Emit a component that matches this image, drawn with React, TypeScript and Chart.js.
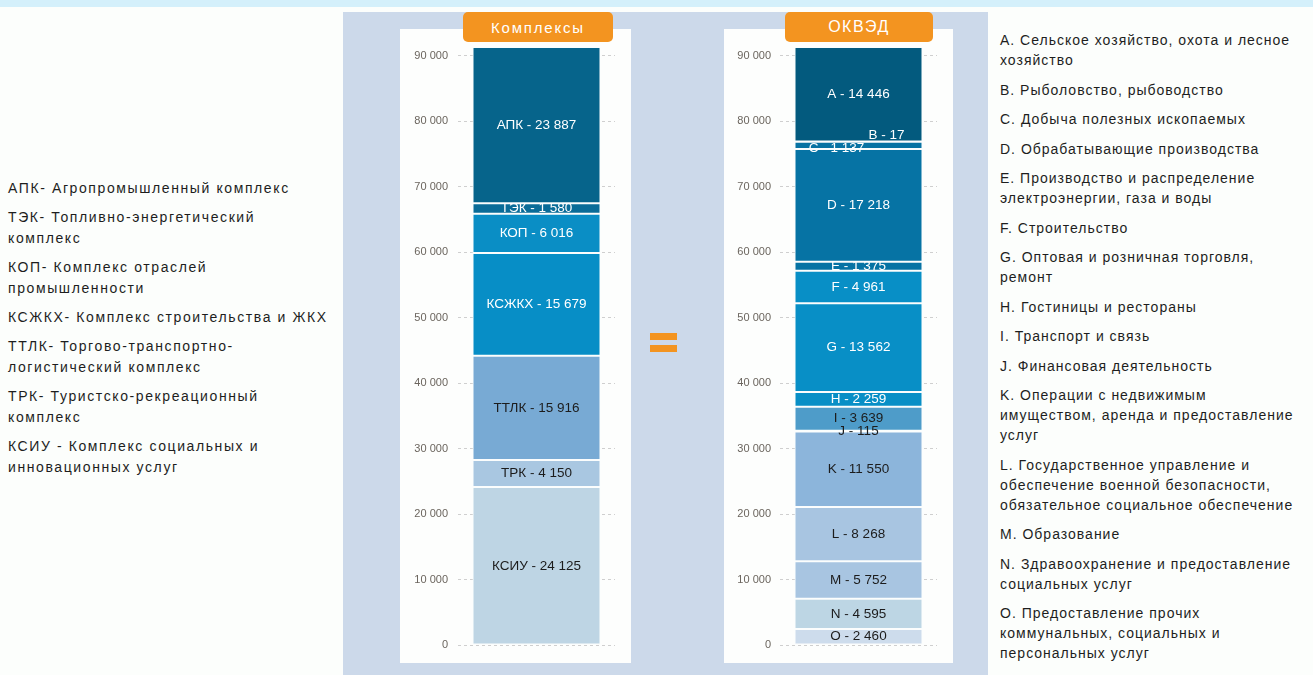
import React, { useEffect, useRef } from "react";
import { Chart, registerables } from "chart.js";

Chart.register(...registerables);

// ---- Data ----
const complexCategories = ["КСИУ", "ТРК", "ТТЛК", "КСЖКХ", "КОП", "ТЭК", "АПК"];
const complexValues = [24125, 4150, 15916, 15679, 6016, 1580, 23887];
const complexTickLabels = ["0", "10 000", "20 000", "30 000", "40 000", "50 000", "60 000", "70 000", "80 000", "90 000"];

const okvedCategories = ["O", "N", "M", "L", "K", "J", "I", "H", "G", "F", "E", "D", "C", "B", "A"];
const okvedValues = [2460, 4595, 5752, 8268, 11550, 115, 3639, 2259, 13562, 4961, 1375, 17218, 1137, 17, 14446];
const okvedTickLabels = ["0", "10 000", "20 000", "30 000", "40 000", "50 000", "60 000", "70 000", "80 000", "90 000"];

const complexLegend = [
  ["АПК- Агропромышленный комплекс"],
  ["ТЭК- Топливно-энергетический", "комплекс"],
  ["КОП- Комплекс отраслей", "промышленности"],
  ["КСЖКХ- Комплекс строительства и ЖКХ"],
  ["ТТЛК- Торгово-транспортно-", "логистический комплекс"],
  ["ТРК- Туристско-рекреационный", "комплекс"],
  ["КСИУ - Комплекс социальных и", "инновационных услуг"],
];

const okvedLegend = [
  ["А. Сельское хозяйство, охота и лесное", "хозяйство"],
  ["В. Рыболовство, рыбоводство"],
  ["С. Добыча полезных ископаемых"],
  ["D. Обрабатывающие производства"],
  ["Е. Производство и распределение", "электроэнергии, газа и воды"],
  ["F. Строительство"],
  ["G. Оптовая и розничная торговля,", "ремонт"],
  ["Н. Гостиницы и рестораны"],
  ["I. Транспорт и связь"],
  ["J. Финансовая деятельность"],
  ["K. Операции с недвижимым", "имуществом, аренда и предоставление", "услуг"],
  ["L. Государственное управление и", "обеспечение военной безопасности,", "обязательное социальное обеспечение"],
  ["M. Образование"],
  ["N. Здравоохранение и предоставление", "социальных услуг"],
  ["O. Предоставление прочих", "коммунальных, социальных и", "персональных услуг"],
];

// ---- Styles ----
const complexColors = ["#bed5e4", "#a9c7e1", "#78aad4", "#078ec6", "#0a8ec5", "#0a6c98", "#06648b"];
const complexTextColors = ["#1c1c1c", "#1c1c1c", "#1c1c1c", "#ffffff", "#ffffff", "#ffffff", "#ffffff"];
const okvedColors = [
  "#cddcec", "#bdd6e4", "#a8c5e1", "#a8c5e1", "#8cb5db", "#4e9cc9", "#4e9cc9",
  "#088fc6", "#088fc6", "#088fc6", "#0673a4", "#0673a4", "#0873a3", "#035a7e", "#035a7e",
];
const okvedTextColors = [
  "#1c1c1c", "#1c1c1c", "#1c1c1c", "#1c1c1c", "#1c1c1c", "#1c1c1c", "#1c1c1c",
  "#ffffff", "#ffffff", "#ffffff", "#ffffff", "#ffffff", "#ffffff", "#ffffff", "#ffffff",
];
const okvedLabelOffsets: Record<number, [number, number]> = { 12: [-22, 3], 13: [28, -6] };

const FONT = "'Liberation Sans', Arial, sans-serif";

function fmt(v: number): string {
  return String(v).replace(/\B(?=(\d{3})+(?!\d))/g, " ");
}

const segLabelsPlugin = {
  id: "segLabels",
  afterDatasetsDraw(chart: any, _args: any, opts: any) {
    const ctx = chart.ctx;
    ctx.save();
    ctx.font = `13.5px ${FONT}`;
    ctx.textAlign = "center";
    ctx.textBaseline = "middle";
    chart.data.datasets.forEach((ds: any, i: number) => {
      const el = chart.getDatasetMeta(i).data[0];
      if (!el) return;
      const { x, y, base } = el.getProps(["x", "y", "base"], true);
      const off = (opts.offsets && opts.offsets[i]) || [0, 0];
      ctx.fillStyle = opts.textColors[i];
      ctx.fillText(`${ds.label} - ${fmt(ds.data[0])}`, x + off[0], (y + base) / 2 + off[1]);
    });
    ctx.restore();
  },
};

type StackProps = {
  cats: string[];
  vals: number[];
  colors: string[];
  textColors: string[];
  tickLabels: string[];
  offsets?: Record<number, [number, number]>;
  width: number;
  height: number;
  axisWidth: number;
  tickPad: number;
  padRight: number;
};

function StackChart(p: StackProps) {
  const ref = useRef<HTMLCanvasElement>(null);
  useEffect(() => {
    const total = p.vals.reduce((a, b) => a + b, 0);
    const chart = new Chart(ref.current as HTMLCanvasElement, {
      type: "bar",
      data: {
        labels: [""],
        datasets: p.cats.map((c, i) => ({
          label: c,
          data: [p.vals[i]],
          backgroundColor: p.colors[i],
          borderColor: "#fbfdfd",
          borderWidth: 1,
          borderSkipped: false,
          barPercentage: 128 / 157,
          categoryPercentage: 1,
        })),
      },
      options: {
        responsive: false,
        animation: false,
        devicePixelRatio: 1,
        layout: { padding: { top: 18, bottom: 18, right: p.padRight, left: 0 } },
        plugins: {
          legend: { display: false },
          tooltip: { enabled: false },
          segLabels: { textColors: p.textColors, offsets: p.offsets || {} },
        } as any,
        scales: {
          x: { stacked: true, display: false },
          y: {
            stacked: true,
            bounds: "data",
            min: 0,
            max: total,
            afterDataLimits: (s: any) => {
              s.min = 0;
              s.max = total;
            },
            afterBuildTicks: (s: any) => {
              s.ticks = p.tickLabels.map((_, i) => ({ value: i * 10000 }));
            },
            afterFit: (s: any) => {
              s.width = p.axisWidth;
            },
            grid: { color: "#cfcfcf", drawTicks: false, lineWidth: 1 },
            border: { display: false, dash: [3, 3] },
            ticks: {
              autoSkip: false,
              padding: p.tickPad,
              color: "#6b655e",
              font: { family: FONT, size: 11 },
              callback: (v: any) => p.tickLabels[Math.round(Number(v) / 10000)] ?? "",
            } as any,
          },
        },
      },
      plugins: [segLabelsPlugin as any],
    });
    return () => chart.destroy();
  }, []);
  return <canvas ref={ref} width={p.width} height={p.height} style={{ display: "block", width: p.width, height: p.height }} />;
}

function Legend({ items, left, top, lineH, gap, size, spacing }: { items: string[][]; left: number; top: number; lineH: number; gap: number; size: number; spacing: number }) {
  return (
    <div style={{ position: "absolute", left, top, fontFamily: FONT, fontSize: size, letterSpacing: spacing, color: "#1e1e1e", lineHeight: `${lineH}px`, whiteSpace: "nowrap" }}>
      {items.map((lines, i) => (
        <div key={i} style={{ marginBottom: gap }}>
          {lines.map((l, j) => (
            <div key={j}>{l}</div>
          ))}
        </div>
      ))}
    </div>
  );
}

export default function App() {
  const header: React.CSSProperties = {
    position: "absolute",
    top: 12,
    height: 30,
    background: "#f39420",
    borderRadius: 5,
    color: "#ffffff",
    fontFamily: FONT,
    fontSize: 15,
    letterSpacing: 1.8,
    display: "flex",
    alignItems: "center",
    justifyContent: "center",
  };
  return (
    <div style={{ position: "absolute", left: 0, top: 0, width: 1313, height: 675, background: "#fcfefc", overflow: "hidden" }}>
      <div style={{ position: "absolute", left: 0, top: 0, width: 1313, height: 7, background: "#d4f0fb" }} />
      <div style={{ position: "absolute", left: 343, top: 12, width: 645, height: 663, background: "#ccd9ea" }} />
      <div style={{ position: "absolute", left: 400, top: 29, width: 231, height: 634, background: "#fdfefd" }}>
        <StackChart
          cats={complexCategories}
          vals={complexValues}
          colors={complexColors}
          textColors={complexTextColors}
          tickLabels={complexTickLabels}
          width={231}
          height={634}
          axisWidth={58}
          tickPad={10}
          padRight={16}
        />
      </div>
      <div style={{ position: "absolute", left: 724, top: 29, width: 229, height: 634, background: "#fdfefd" }}>
        <StackChart
          cats={okvedCategories}
          vals={okvedValues}
          colors={okvedColors}
          textColors={okvedTextColors}
          tickLabels={okvedTickLabels}
          offsets={okvedLabelOffsets}
          width={229}
          height={634}
          axisWidth={56}
          tickPad={9}
          padRight={16}
        />
      </div>
      <div style={{ ...header, left: 463, width: 150 }}>Комплексы</div>
      <div style={{ ...header, left: 785, width: 148, fontSize: 16, letterSpacing: 1.5 }}>ОКВЭД</div>
      <div style={{ position: "absolute", left: 650, top: 333, width: 27, height: 7, background: "#f39420" }} />
      <div style={{ position: "absolute", left: 650, top: 345, width: 27, height: 7, background: "#f39420" }} />
      <Legend items={complexLegend} left={8} top={178} lineH={21} gap={8} size={14} spacing={1.6} />
      <Legend items={okvedLegend} left={1000} top={30} lineH={20} gap={9.5} size={14} spacing={1.0} />
    </div>
  );
}
